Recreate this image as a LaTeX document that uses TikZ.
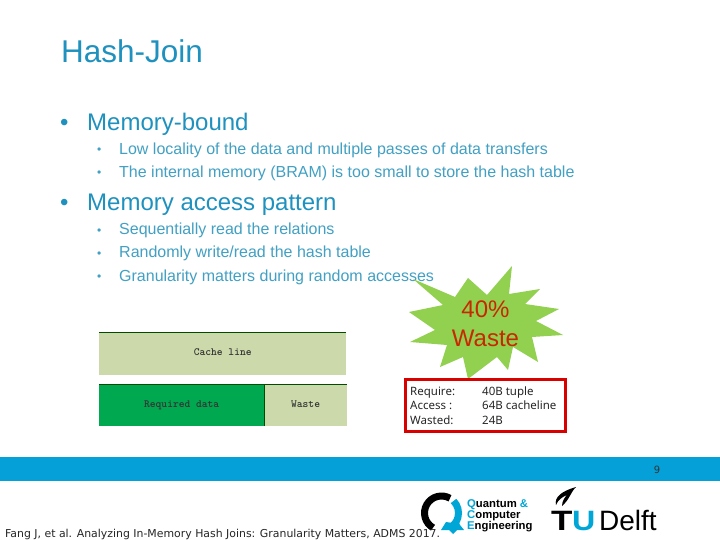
\documentclass[tikz,border=0pt]{standalone}
\usepackage{fontspec}
\setmainfont{Liberation Sans}
\newfontfamily\smallfont{DejaVu Sans}
\newfontfamily\listfont{Noto Sans}
\usepackage{tikz}

\definecolor{slideblue}{RGB}{30,145,190}
\definecolor{subblue}{RGB}{65,160,195}
\definecolor{barblue}{RGB}{5,160,215}
\definecolor{linegreen}{RGB}{204,217,170}
\definecolor{datagreen}{RGB}{0,168,80}
\definecolor{stargreen}{RGB}{146,208,80}
\definecolor{wastered}{RGB}{200,40,0}
\definecolor{logoblue}{RGB}{0,166,214}
\tikzset{
  headline/.style={anchor=base west,inner sep=0pt,text=slideblue,font=\fontsize{24}{28}\selectfont},
  subline/.style={anchor=base west,inner sep=0pt,text=subblue,font=\fontsize{16}{19}\selectfont},
  subdot/.style={anchor=base west,inner sep=0pt,text=subblue,font=\fontsize{12}{14}\selectfont},
  cachebox/.style={anchor=north west,inner sep=0pt,draw=none},
  boxlabel/.style={font=\ttfamily\bfseries\fontsize{11}{13}\selectfont,text=black!80,text height=8pt,text depth=2pt,yshift=1pt},
  listlabel/.style={anchor=base west,inner sep=0pt,font=\listfont\fontsize{11.5}{14}\selectfont,text=black!85},
  logoline/.style={anchor=base west,inner sep=0pt,font=\bfseries\fontsize{11.3}{13}\selectfont},
  delftlabel/.style={anchor=base west,inner sep=0pt,font=\fontsize{28}{30}\selectfont},
}

\begin{document}
\begin{tikzpicture}[x=1pt,y=-1pt]
  \useasboundingbox (0,0) rectangle (720,540);
  \fill[white] (0,0) rectangle (720,540);

  \node[headline,font=\fontsize{31.5}{34}\selectfont] (title) at (61,63) {Hash-Join};

  \node[headline] (bulleta) at (60,131) {•};
  \node[headline] (heada) at (87,131) {Memory-bound};
  \node[subdot] (dota) at (97,154) {•};
  \node[subline] (suba) at (119,155) {Low locality of the data and multiple passes of data transfers};
  \node[subdot] (dotb) at (97,177) {•};
  \node[subline] (subb) at (119,178) {The internal memory (BRAM) is too small to store the hash table};

  \node[headline] (bulletb) at (60,211) {•};
  \node[headline] (headb) at (87,211) {Memory access pattern};
  \node[subdot] (dotc) at (97,234) {•};
  \node[subline] (subc) at (119,235) {Sequentially read the relations};
  \node[subdot] (dotd) at (97,257) {•};
  \node[subline] (subd) at (119,258) {Randomly write/read the hash table};
  \node[subdot] (dote) at (97,280) {•};
  \node[subline] (sube) at (119,281) {Granularity matters during random accesses};

  % star
  \fill[stargreen] (413,279) -- (455,297) -- (468,278) -- (487,295) -- (512,266) -- (509,294)
    -- (540,289) -- (525,304) -- (559,309) -- (536,321) -- (563,335) -- (532,337)
    -- (538,362) -- (513,347) -- (508,370) -- (497,357) -- (468,379) -- (463,357)
    -- (440,367) -- (447,345) -- (410,342) -- (435,330) -- (409,312) -- (443,305) -- cycle;
  \node[text=wastered,font=\fontsize{24}{28}\selectfont,align=center,inner sep=0pt] (waste) at (485.5,324) {40\%\\[1pt]Waste};

  % cache lines
  \node[cachebox,fill=linegreen,minimum width=247pt,minimum height=43pt] (line) at (99,332) {};
  \node[boxlabel] at (line.center) {Cache line};
  \draw[black!70!green] (line.north west) -- (line.north east);
  \node[cachebox,fill=datagreen,minimum width=165pt,minimum height=42pt] (data) at (99,384) {};
  \node[cachebox,fill=linegreen,minimum width=82pt,minimum height=42pt] (rest) at (data.north east) {};
  \node[boxlabel] at (data.center) {Required data};
  \node[boxlabel] at (rest.center) {Waste};
  \draw[black!70!green] (data.north west) -- (rest.north east);
  \draw[black!70!green] (data.north east) -- (data.south east);

  % numbers
  \draw[red!85!black,line width=3pt,fill=white] (405,379) rectangle (565,431);
  \node[listlabel] (require) at (410,395) {Require:};
  \node[listlabel] (access) at (410,409) {Access :};
  \node[listlabel] (wasted) at (410,424) {Wasted:};
  \node[listlabel] (tuple) at (482,395) {40B tuple};
  \node[listlabel] (cacheline) at (482,409) {64B cacheline};
  \node[listlabel] (bytes) at (482,424) {24B};

  % footer
  \fill[barblue] (0,457) rectangle (720,481);
  \node[anchor=base,inner sep=0pt,font=\smallfont\fontsize{10}{12}\selectfont,text=black!80] (page) at (657,473) {9};

  % logos
  \coordinate (ring) at (441.5,513);
  \draw[black,line width=7pt] ([shift=(60:17pt)]ring) arc[start angle=60,end angle=240,radius=17pt];
  \draw[logoblue,line width=7pt] ([shift=(45:17pt)]ring) arc[start angle=45,end angle=-60,radius=17pt];
  \fill[logoblue] (446,522) -- (453,523) -- (457,518) -- (460,525) -- (464,530) -- (457,530) -- (453,534) -- (449,530) -- (441,530) -- cycle;
  \node[logoline] (qa) at (467,507) {\textcolor{logoblue}{Q}uantum \textcolor{logoblue}{\&}};
  \node[logoline] (qb) at (467,518) {\textcolor{logoblue}{C}omputer};
  \node[logoline] (qc) at (467,529) {\textcolor{logoblue}{E}ngineering};
  \node[delftlabel,font=\bfseries\fontsize{28}{30}\selectfont] (tu) at (551,530) {\scalebox{1.25}[1]{T}};
  \node[delftlabel,font=\bfseries\fontsize{28}{30}\selectfont,text=logoblue] (uu) at (572,530) {\scalebox{1.15}[1]{U}};
  \node[delftlabel] (delft) at (599,530) {Delft};
  \fill[black] (556,505) .. controls (554,497) and (562,491) .. (576,487) .. controls (570,493) and (570,499) .. (562,506) .. controls (562,501) and (565,497) .. (567,495) .. controls (562,497) and (558,500) .. (556,505) -- cycle;

  \node[anchor=base west,inner sep=0pt,font=\smallfont\fontsize{10.9}{13}\selectfont,text=black!85] (cite) at (5,537) {Fang J, et al. Analyzing In-Memory Hash Joins: Granularity Matters, ADMS 2017.};
\end{tikzpicture}
\end{document}
